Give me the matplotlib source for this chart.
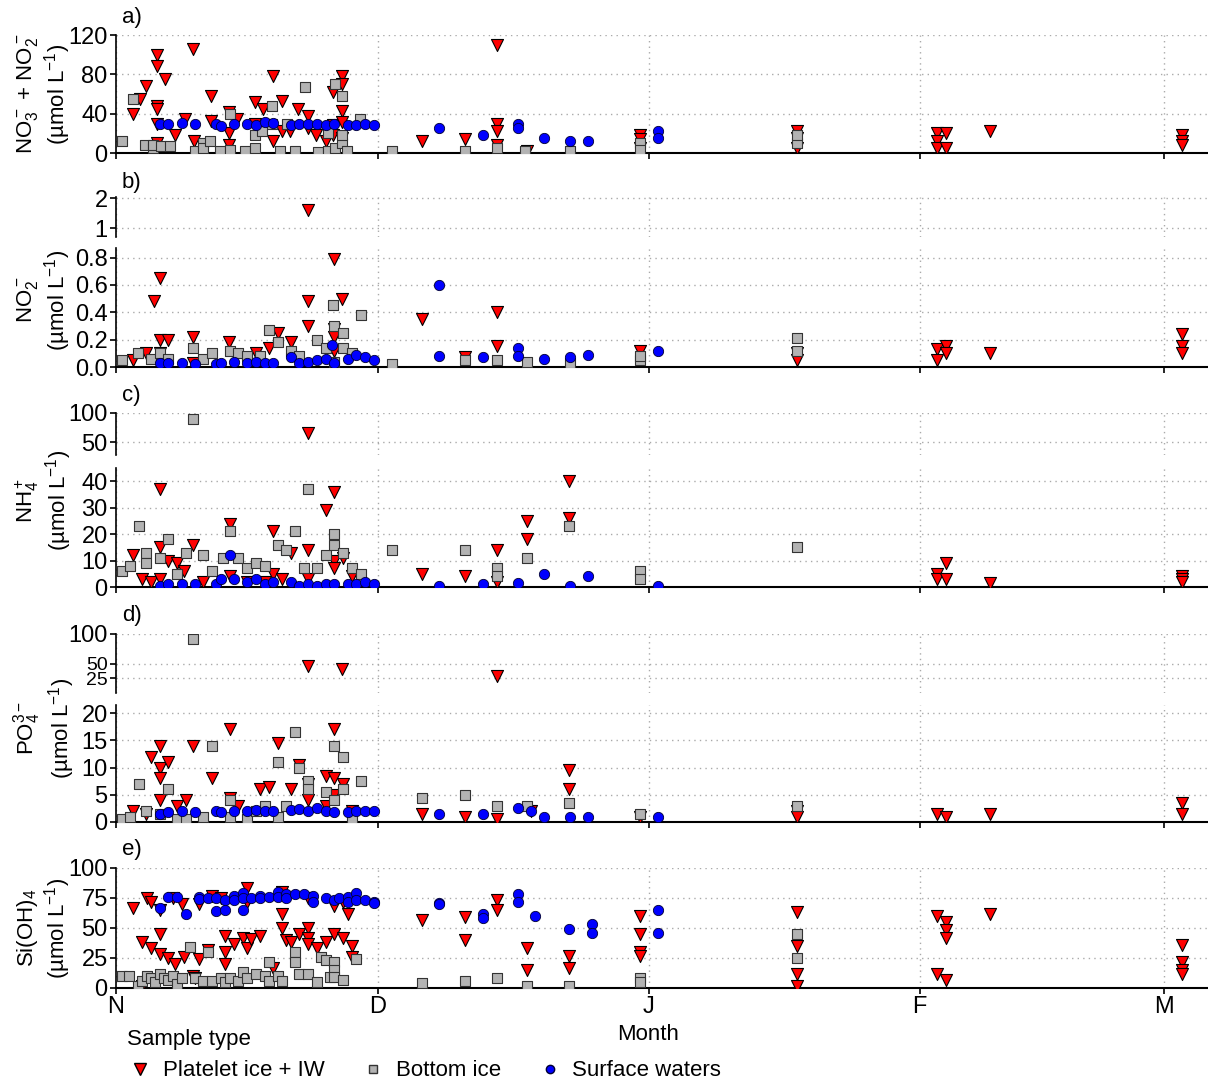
import matplotlib
matplotlib.use("Agg")
import matplotlib.pyplot as plt

plt.rcParams["font.family"] = ["Liberation Sans", "DejaVu Sans"]
plt.rcParams["mathtext.fontset"] = "custom"
plt.rcParams["mathtext.rm"] = "Liberation Sans"
plt.rcParams["mathtext.it"] = "Liberation Sans"

# days since 1 November
month_days = [0, 30, 61, 92, 120]
month_labels = ["N", "D", "J", "F", "M"]

# ---- a) NO3 + NO2
a_red_d = [2, 2.7, 3.4, 4.7, 4.7, 4.7, 4.7, 4.7, 4.7, 5.6, 6.8, 7.9, 8.8, 8.9, 10.9, 10.9, 12.9, 12.9, 12.9,
           13.9, 15.9, 15.9, 16.8, 18, 18, 19, 19, 19.9, 20.8, 22, 22, 22.9, 24, 24.8, 24.8, 24.8, 25.9, 25.9, 25.9,
           25.9, 25.9, 35, 40, 43.6, 43.6, 43.6, 43.6, 47, 60, 60, 60, 78, 78, 78, 94, 94, 94, 95, 95, 100, 122, 122, 122]
a_red_v = [40, 55, 68, 100, 88, 48, 45, 30, 10, 75, 18, 35, 106, 12, 58, 33, 42, 8, 20,
           35, 30, 52, 45, 78, 12, 53, 22, 22, 45, 38, 25, 18, 12, 62, 28, 18, 78, 70, 43,
           32, 15, 12, 14, 110, 30, 22, 8, 2, 18, 14, 5, 22, 15, 5, 20, 12, 5, 20, 5, 22, 18, 12, 8]
a_gray_d = [0.7, 2, 3.3, 4.2, 4.2, 5.2, 6.2, 9, 10, 10, 10.8, 11.9, 13, 13, 14.8, 15.9, 15.9, 16.7, 17.9, 17.9,
            18.8, 19.6, 20.5, 21.6, 23.1, 24.3, 24.3, 25.1, 25.1, 25.9, 25.9, 25.9, 26.4, 27.9,
            31.6, 40, 43.6, 46.8, 52, 60, 60, 78, 78]
a_gray_v = [12, 55, 8, 5, 8, 7, 7, 2, 10, 5, 12, 2, 40, 3, 2, 5, 18, 22, 48, 30,
            2, 30, 2, 67, 1, 2, 20, 70, 5, 58, 10, 18, 2, 35,
            2, 2, 5, 2, 2, 10, 3, 10, 18]
a_blue_d = [5, 6, 7.5, 9, 11.5, 12, 13.5, 15, 16, 17, 18, 20, 21, 22, 23, 24, 25, 26.5, 27.5, 28.5, 29.5,
            37, 42, 46, 46, 49, 52, 54, 62, 62]
a_blue_v = [30, 30, 31, 29, 30, 27, 29, 30, 28, 32, 31, 28, 30, 30, 29, 28, 29, 28, 28, 30, 28,
            25, 18, 30, 25, 15, 12, 12, 22, 15]

# ---- b) NO2
b_red_d = [2, 3.4, 4.3, 5, 5, 5, 6, 8.8, 8.8, 12.9, 16, 17.5, 18.5, 20, 22, 22, 24.9, 25.9, 25, 25, 25,
           35, 40, 43.6, 43.6, 60, 78, 78, 94, 94, 95, 95, 100, 122, 122, 122]
b_red_v = [0.05, 0.1, 0.48, 0.65, 0.2, 0.1, 0.2, 0.22, 0.03, 0.18, 0.1, 0.14, 0.25, 0.18, 0.3, 0.48, 0.79,
           0.5, 0.28, 0.22, 0.12, 0.35, 0.07, 0.4, 0.15, 0.12, 0.1, 0.05, 0.13, 0.05, 0.15, 0.1, 0.1, 0.24, 0.15, 0.1]
b_red_top_d = [22]
b_red_top_v = [1.6]
b_gray_d = [0.7, 2.5, 4, 5, 6, 8.8, 10, 11, 13, 14, 15, 16.5, 17.5, 18.5, 20, 21, 23, 24, 24.8, 25, 25, 26,
            26, 27, 28, 31.6, 40, 43.6, 47, 52, 60, 60, 78, 78]
b_gray_v = [0.05, 0.1, 0.06, 0.1, 0.06, 0.14, 0.06, 0.1, 0.12, 0.1, 0.08, 0.08, 0.27, 0.18, 0.12, 0.08, 0.2,
            0.14, 0.45, 0.3, 0.04, 0.25, 0.14, 0.1, 0.38, 0.02, 0.05, 0.05, 0.04, 0.03, 0.05, 0.08, 0.21, 0.12]
b_blue_d = [5, 6, 7.5, 9, 11.5, 12, 13.5, 15, 16, 17, 18, 20, 21, 22, 23, 24, 24.7, 25, 26.5, 27.5, 28.5, 29.5,
            37, 37, 42, 46, 46, 49, 52, 54, 62]
b_blue_v = [0.03, 0.03, 0.03, 0.02, 0.02, 0.03, 0.04, 0.03, 0.04, 0.03, 0.03, 0.07, 0.03, 0.04, 0.05, 0.06,
            0.16, 0.03, 0.06, 0.09, 0.07, 0.05, 0.6, 0.08, 0.07, 0.14, 0.08, 0.06, 0.07, 0.09, 0.12]

# ---- c) NH4
c_red_d = [2, 3, 4, 5, 5, 5, 6, 7, 7.8, 8.8, 13, 13, 18, 18, 20, 22, 22, 24, 25, 25, 25, 26, 27, 10, 15, 17, 19,
           35, 40, 43.6, 43.6, 47, 47, 51.8, 51.8, 94, 94, 95, 95, 100, 122, 122, 122]
c_red_v = [12, 3, 2, 37, 15, 3, 10, 9, 6, 16, 24, 4, 21, 5, 13, 14, 3, 29, 36, 10, 7, 11, 4, 2, 2, 2, 3,
           5, 4, 2, 14, 25, 18, 40, 26, 5, 3, 9, 3, 1.5, 4, 3, 2]
c_red_top_d = [22]
c_red_top_v = [66]
c_gray_d = [0.7, 1.6, 2.6, 3.4, 3.4, 5, 6, 7, 8, 10, 11, 12.3, 13, 14, 15, 16, 17, 18.5, 19.5, 20.5, 21.5, 22,
            23, 24, 25, 25, 26, 27, 28, 31.6, 40, 43.6, 43.6, 47, 51.8, 60, 60, 78]
c_gray_v = [6, 8, 23, 13, 9, 11, 18, 5, 13, 12, 6, 11, 21, 11, 7, 9, 8, 16, 14, 21, 7, 37,
            7, 12, 20, 16, 13, 7, 5, 14, 14, 7, 4, 11, 23, 6, 3, 15]
c_gray_top_d = [8.8]
c_gray_top_v = [90]
c_blue_d = [5, 6, 7.5, 9, 11.5, 12, 13, 13.5, 15, 16, 17, 18, 20, 21, 22, 23, 24, 25, 26.5, 27.5, 28.5, 29.5,
            37, 42, 46, 49, 52, 54, 62]
c_blue_v = [0.5, 1, 1, 1, 1, 3, 12, 3, 2, 3, 1, 2, 2, 0.5, 1, 0.5, 1, 1, 1, 1, 2, 1,
            0.5, 1, 1.5, 5, 0.5, 4, 0.5]

# ---- d) PO4
d_red_d = [2, 3.4, 4, 5, 5, 5, 5, 6, 7, 8, 8.8, 11, 13, 13, 14, 16.5, 17.5, 18.5, 20, 21, 22, 22, 24, 24,
           25, 25, 25, 26, 27, 35, 40, 43.6, 47.5, 51.8, 51.8, 60, 78, 78, 94, 95, 100, 122, 122]
d_red_v = [2, 1.5, 12, 14, 10, 8, 4, 11, 3, 4, 14, 8, 17, 4.5, 3, 6, 6.5, 14.5, 6, 10.5, 7, 4, 8.5, 3,
           8, 17, 5, 7, 2, 1.5, 1, 0.5, 2, 9.5, 6, 1, 2, 1, 1.5, 1, 1.5, 3.5, 1.5]
d_red_top_d = [22, 25.9, 43.6]
d_red_top_v = [45, 40, 28]
d_gray_d = [0.7, 1.6, 2.6, 3.4, 5, 6, 7, 8, 10, 11, 13, 13, 15, 16, 17, 18.5, 18.5, 19.5, 20.5, 21, 22, 22,
            24, 25, 25, 26, 26, 27, 28, 35, 40, 43.6, 47, 51.8, 60, 78]
d_gray_v = [0.5, 1, 7, 2, 1.5, 6, 0.5, 0.5, 1, 14, 1, 4, 0.5, 2, 3, 11, 1, 3, 16.5, 10, 7.5, 6,
            5.5, 14, 4, 12, 6, 0.5, 7.5, 4.5, 5, 3, 3, 3.5, 1.5, 3]
d_gray_top_d = [8.8]
d_gray_top_v = [92]
d_blue_d = [5, 6, 7.5, 9, 11.5, 12, 13.5, 15, 16, 17, 18, 20, 21, 22, 23, 24, 25, 26.5, 27.5, 28.5, 29.5,
            37, 42, 46, 47.5, 49, 52, 54, 62]
d_blue_v = [1.5, 1.8, 2, 1.8, 2, 1.8, 2, 2, 2.2, 2, 2, 2.2, 2.3, 2, 2.5, 2, 1.8, 1.8, 2, 2, 2,
            1.5, 1.5, 2.5, 2, 1, 1, 1, 1]

# ---- e) Si(OH)4
e_red_d = [2, 3.5, 4, 3, 4, 5, 5, 6, 6.8, 5, 6.5, 7.5, 7.8, 8.8, 9, 9.5, 9.5, 10.5, 11, 12, 12.5, 12.5, 12.5,
           13.5, 14.5, 15, 15, 15, 15.5, 16.5, 18, 19, 19, 19, 19.5, 20, 21, 22, 22, 22, 22, 23, 24, 25, 25,
           26, 26, 26.5, 27, 27, 35, 40, 40, 43.6, 43.6, 47, 47, 51.8, 51.8, 60, 60, 60, 60, 78, 78, 78, 78,
           94, 94, 95, 95, 95, 95, 100, 122, 122, 122, 122, 3]
e_red_v = [67, 75, 72, 38, 33, 45, 28, 25, 20, 65, 75, 70, 26, 10, 8, 70, 24, 32, 77, 75, 43, 30, 20,
           37, 42, 33, 72, 83, 41, 43, 17, 80, 62, 50, 40, 38, 45, 50, 42, 37, 75, 33, 38, 45, 68,
           42, 72, 62, 35, 26, 57, 59, 40, 73, 65, 33, 15, 27, 17, 60, 45, 30, 27, 63, 35, 12, 2,
           60, 12, 55, 48, 42, 7, 62, 36, 22, 15, 12, 2]
e_gray_d = [0.7, 1.5, 2.5, 3, 3.5, 4, 4.5, 5, 5.5, 6, 6.5, 7, 7.5, 8.5, 9, 10.5, 10, 11, 12, 12.5, 13, 14,
            14.5, 15, 16, 17, 17.5, 17.5, 18.5, 19, 20.5, 20.5, 21, 22, 23, 23.5, 24, 24.5, 25, 25, 25, 26,
            27.5, 35, 40, 43.6, 47, 51.8, 60, 60, 78, 78]
e_gray_v = [10, 10, 2, 6, 10, 8, 5, 12, 8, 7, 10, 3, 8, 34, 8, 30, 6, 6, 8, 5, 8, 6,
            13, 8, 12, 10, 22, 6, 10, 6, 30, 22, 12, 12, 5, 26, 23, 9, 22, 15, 9, 7,
            24, 4, 6, 8, 2, 2, 8, 5, 45, 25]
e_blue_d = [5, 6, 7, 8, 9.5, 9.5, 10.5, 11.5, 11.5, 12.5, 12.5, 13.5, 13.5, 14.5, 14.5, 14.5, 15.5, 16.5,
            16.5, 17.5, 18.5, 18.5, 19.5, 19.5, 20.5, 21.5, 22.5, 22.5, 24, 25, 25.5, 26.5, 26.5, 27.5, 27.5,
            28.5, 29.5, 29.5, 37, 37, 42, 42, 46, 46, 48, 51.8, 54.5, 54.5, 62, 62]
e_blue_v = [67, 76, 76, 62, 76, 74, 75, 64, 75, 73, 65, 77, 73, 79, 65, 75, 75, 77,
            75, 76, 80, 76, 78, 75, 78, 78, 77, 72, 75, 73, 75, 76, 72, 79, 73,
            73, 72, 71, 71, 70, 62, 58, 78, 72, 60, 49, 53, 46, 65, 46]

RED = dict(marker="v", s=75, c="#ff0000", edgecolors="black", linewidths=0.8, zorder=3)
GRAY = dict(marker="s", s=52, c="#b3b3b3", edgecolors="#333333", linewidths=0.8, zorder=4)
BLUE = dict(marker="o", s=55, c="#0000ff", edgecolors="#000033", linewidths=0.6, zorder=5)

W, H = 1208, 1084
fig = plt.figure(figsize=(W / 100, H / 100), dpi=100)


def make_ax(top_px, bot_px):
    return fig.add_axes([116 / W, 1 - bot_px / H, 1 - 116 / W, (bot_px - top_px) / H])


def style(ax, ylim, yticks, bottom_spine=True, show_x=False):
    ax.set_xlim(0, 125)
    ax.set_ylim(*ylim)
    ax.set_yticks(yticks)
    ax.set_xticks(month_days)
    ax.grid(True, ls=(0, (1, 3)), color="#aaaaaa", lw=1)
    ax.set_axisbelow(True)
    for s in ["top", "right"]:
        ax.spines[s].set_visible(False)
    ax.spines["left"].set_linewidth(1.2)
    ax.spines["bottom"].set_linewidth(1.5)
    ax.tick_params(labelsize=17, width=1.2, length=4, pad=2)
    if not bottom_spine:
        ax.spines["bottom"].set_visible(False)
        ax.tick_params(axis="x", bottom=False)
    if show_x:
        ax.set_xticklabels(month_labels)
    else:
        ax.set_xticklabels([])


def plot(ax, rd, rv, gd, gv, bd, bv):
    if rd:
        ax.scatter(rd, rv, **RED)
    if gd:
        ax.scatter(gd, gv, **GRAY)
    if bd:
        ax.scatter(bd, bv, **BLUE)


def ylab(text, y_px):
    fig.text(44 / W, 1 - y_px / H, text, rotation=90, ha="center", va="center",
             fontsize=16, multialignment="center", linespacing=1.1)


def plabel(text, top_px):
    fig.text(122 / W, 1 - (top_px - 18) / H, text, fontsize=16, va="center")


# a
ax = make_ax(35, 153)
style(ax, (0, 120), [0, 40, 80, 120])
plot(ax, a_red_d, a_red_v, a_gray_d, a_gray_v, a_blue_d, a_blue_v)
plabel("a)", 35)
ylab("NO$_3^-$ + NO$_2^-$\n(µmol L$^{-1}$)", 94)

# b
ax = make_ax(197, 237)
style(ax, (0.7, 2.05), [1, 2], bottom_spine=False)
plot(ax, b_red_top_d, b_red_top_v, [], [], [], [])
ax = make_ax(248, 367)
style(ax, (0, 0.87), [0, 0.2, 0.4, 0.6, 0.8])
ax.set_yticklabels(["0.0", "0.2", "0.4", "0.6", "0.8"])
plot(ax, b_red_d, b_red_v, b_gray_d, b_gray_v, b_blue_d, b_blue_v)
plabel("b)", 200)
ylab("NO$_2^-$\n(µmol L$^{-1}$)", 300)

# c
ax = make_ax(413, 455)
style(ax, (28, 100), [50, 100], bottom_spine=False)
plot(ax, c_red_top_d, c_red_top_v, c_gray_top_d, c_gray_top_v, [], [])
ax = make_ax(468, 587)
style(ax, (0, 45), [0, 10, 20, 30, 40])
plot(ax, c_red_d, c_red_v, c_gray_d, c_gray_v, c_blue_d, c_blue_v)
plabel("c)", 413)
ylab("NH$_4^+$\n(µmol L$^{-1}$)", 500)

# d
ax = make_ax(634, 693)
style(ax, (0, 100), [25, 50, 100], bottom_spine=False)
ax.tick_params(axis="y", labelsize=14)
ax.set_yticklabels(["25", "50", "100"], fontsize=14)
ax.get_yticklabels()[2].set_fontsize(17)
plot(ax, d_red_top_d, d_red_top_v, d_gray_top_d, d_gray_top_v, [], [])
ax = make_ax(705, 822)
style(ax, (0, 21.5), [0, 5, 10, 15, 20])
plot(ax, d_red_d, d_red_v, d_gray_d, d_gray_v, d_blue_d, d_blue_v)
plabel("d)", 634)
ylab("PO$_4^{3-}$\n(µmol L$^{-1}$)", 728)

# e
ax = make_ax(868, 988)
style(ax, (0, 100), [0, 25, 50, 75, 100], show_x=True)
plot(ax, e_red_d, e_red_v, e_gray_d, e_gray_v, e_blue_d, e_blue_v)
ax.tick_params(axis="x", labelsize=17)
plabel("e)", 868)
ylab("Si(OH)$_4$\n(µmol L$^{-1}$)", 928)

fig.text(648 / W, 1 - 1035 / H, "Month", fontsize=16, ha="center", va="center")
fig.text(127 / W, 1 - 1040 / H, "Sample type", fontsize=16, va="center")

hr = plt.Line2D([], [], ls="", marker="v", ms=8, mfc="#ff0000", mec="black")
hg = plt.Line2D([], [], ls="", marker="s", ms=6, mfc="#b3b3b3", mec="#333333")
hb = plt.Line2D([], [], ls="", marker="o", ms=6, mfc="#0000ff", mec="#000033")
fig.legend([hr, hg, hb], ["Platelet ice + IW", "Bottom ice", "Surface waters"],
           loc="center left", bbox_to_anchor=(116 / W, 1 - 1071 / H), ncol=3, frameon=False,
           fontsize=16, handletextpad=0.4, columnspacing=1.6, handlelength=1.2, borderpad=0)

fig.savefig("out.png", dpi=100)
